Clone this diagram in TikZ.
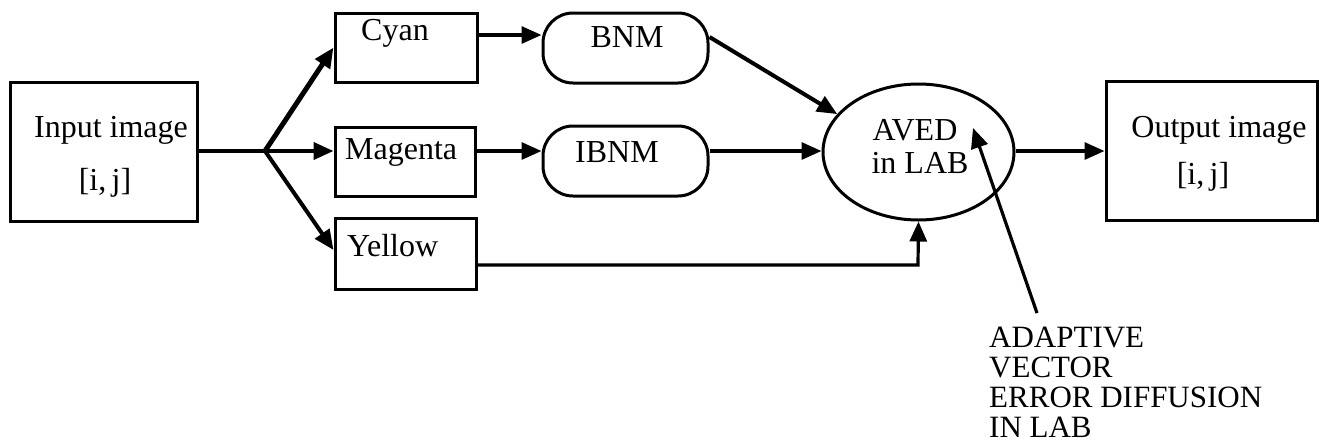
\documentclass[tikz,border=0pt]{standalone}
\usepackage{fontspec}
\setmainfont{Liberation Serif}
\usetikzlibrary{arrows.meta,shapes.geometric}
\begin{document}
\begin{tikzpicture}[x=1pt,y=-1pt,
  box/.style={draw,line width=3pt,rectangle,inner sep=0pt},
  rbox/.style={draw,line width=3pt,rectangle,rounded corners=30pt,inner sep=0pt},
  txt/.style={inner sep=0pt,font=\fontsize{32}{32}\selectfont},
  conn/.style={line width=3.2pt,-{Triangle[length=20pt,width=17pt]}},
  thick conn/.style={line width=5pt,-{Triangle[length=20pt,width=17pt]}}]
\useasboundingbox (0,0) rectangle (1326,445);
% boxes
\node[box,minimum width=187pt,minimum height=139pt] (in) at (103.5,151.5) {};
\node[txt] (intxt) at (111,130) {Input image};
\node[txt] (inij) at (105,183) {[i,\,j]};
\node[box,minimum width=142pt,minimum height=69pt] (cyan) at (406,47.5) {};
\node[txt,anchor=west] (cyantxt) at (361,33) {Cyan};
\node[box,minimum width=140pt,minimum height=69pt] (mag) at (405,161.5) {};
\node[txt,anchor=west] (magtxt) at (345,152) {Magenta};
\node[box,minimum width=141pt,minimum height=71pt] (yel) at (405.5,253.5) {};
\node[txt,anchor=west] (yeltxt) at (347,246) {Yellow};
\node[rbox,minimum width=165pt,minimum height=70pt] (bnm) at (625.5,48) {};
\node[txt] (bnmtxt) at (627,37) {BNM};
\node[rbox,minimum width=165pt,minimum height=70pt] (ibnm) at (625.5,161) {};
\node[txt] (ibnmtxt) at (617,152) {IBNM};
\node[draw,ellipse,line width=3pt,minimum width=191pt,minimum height=136pt,inner sep=0pt] (aved) at (918.5,152) {};
\node[txt] (avedtxt) at (915,130) {AVED};
\node[txt] (inlab) at (920,163) {in LAB};
\node[box,minimum width=211pt,minimum height=139pt] (out) at (1211.5,150.5) {};
\node[txt] (outtxt) at (1219,130) {Output image};
\node[txt] (outij) at (1203,177) {[i,\,j]};
\node[inner sep=0pt,anchor=north west,align=left,font=\fontsize{31}{30}\selectfont] (note) at (989,327)
  {ADAPTIVE\\VECTOR\\ERROR DIFFUSION\\IN LAB};
% connectors
\coordinate (br) at (265,151);
\draw[line width=3.2pt] (in.east |- br) -- (br);
\draw[thick conn] (br) -- (cyan.west);
\draw[conn,line width=4pt] (br) -- (mag.west |- br);
\draw[conn,line width=4pt] (br) -- (yel.west |- 0,250);
\draw[conn] (cyan.east |- 0,35) -- (bnm.west |- 0,35);
\draw[conn] (mag.east |- 0,151) -- (ibnm.west |- 0,151);
\draw[conn,line width=4pt] (bnm.east |- 0,37) -- (aved.155);
\draw[conn] (ibnm.east |- 0,151) -- (aved.west |- 0,151);
\coordinate (yc) at (918,265);
\draw[conn] (yel.east |- yc) -- (yc) -- (aved.south);
\draw[conn] (aved.east |- 0,151) -- (out.west |- 0,151);
\coordinate (nt) at (1037,313);
\draw[conn] (nt) -- (973,128);
\end{tikzpicture}
\end{document}
